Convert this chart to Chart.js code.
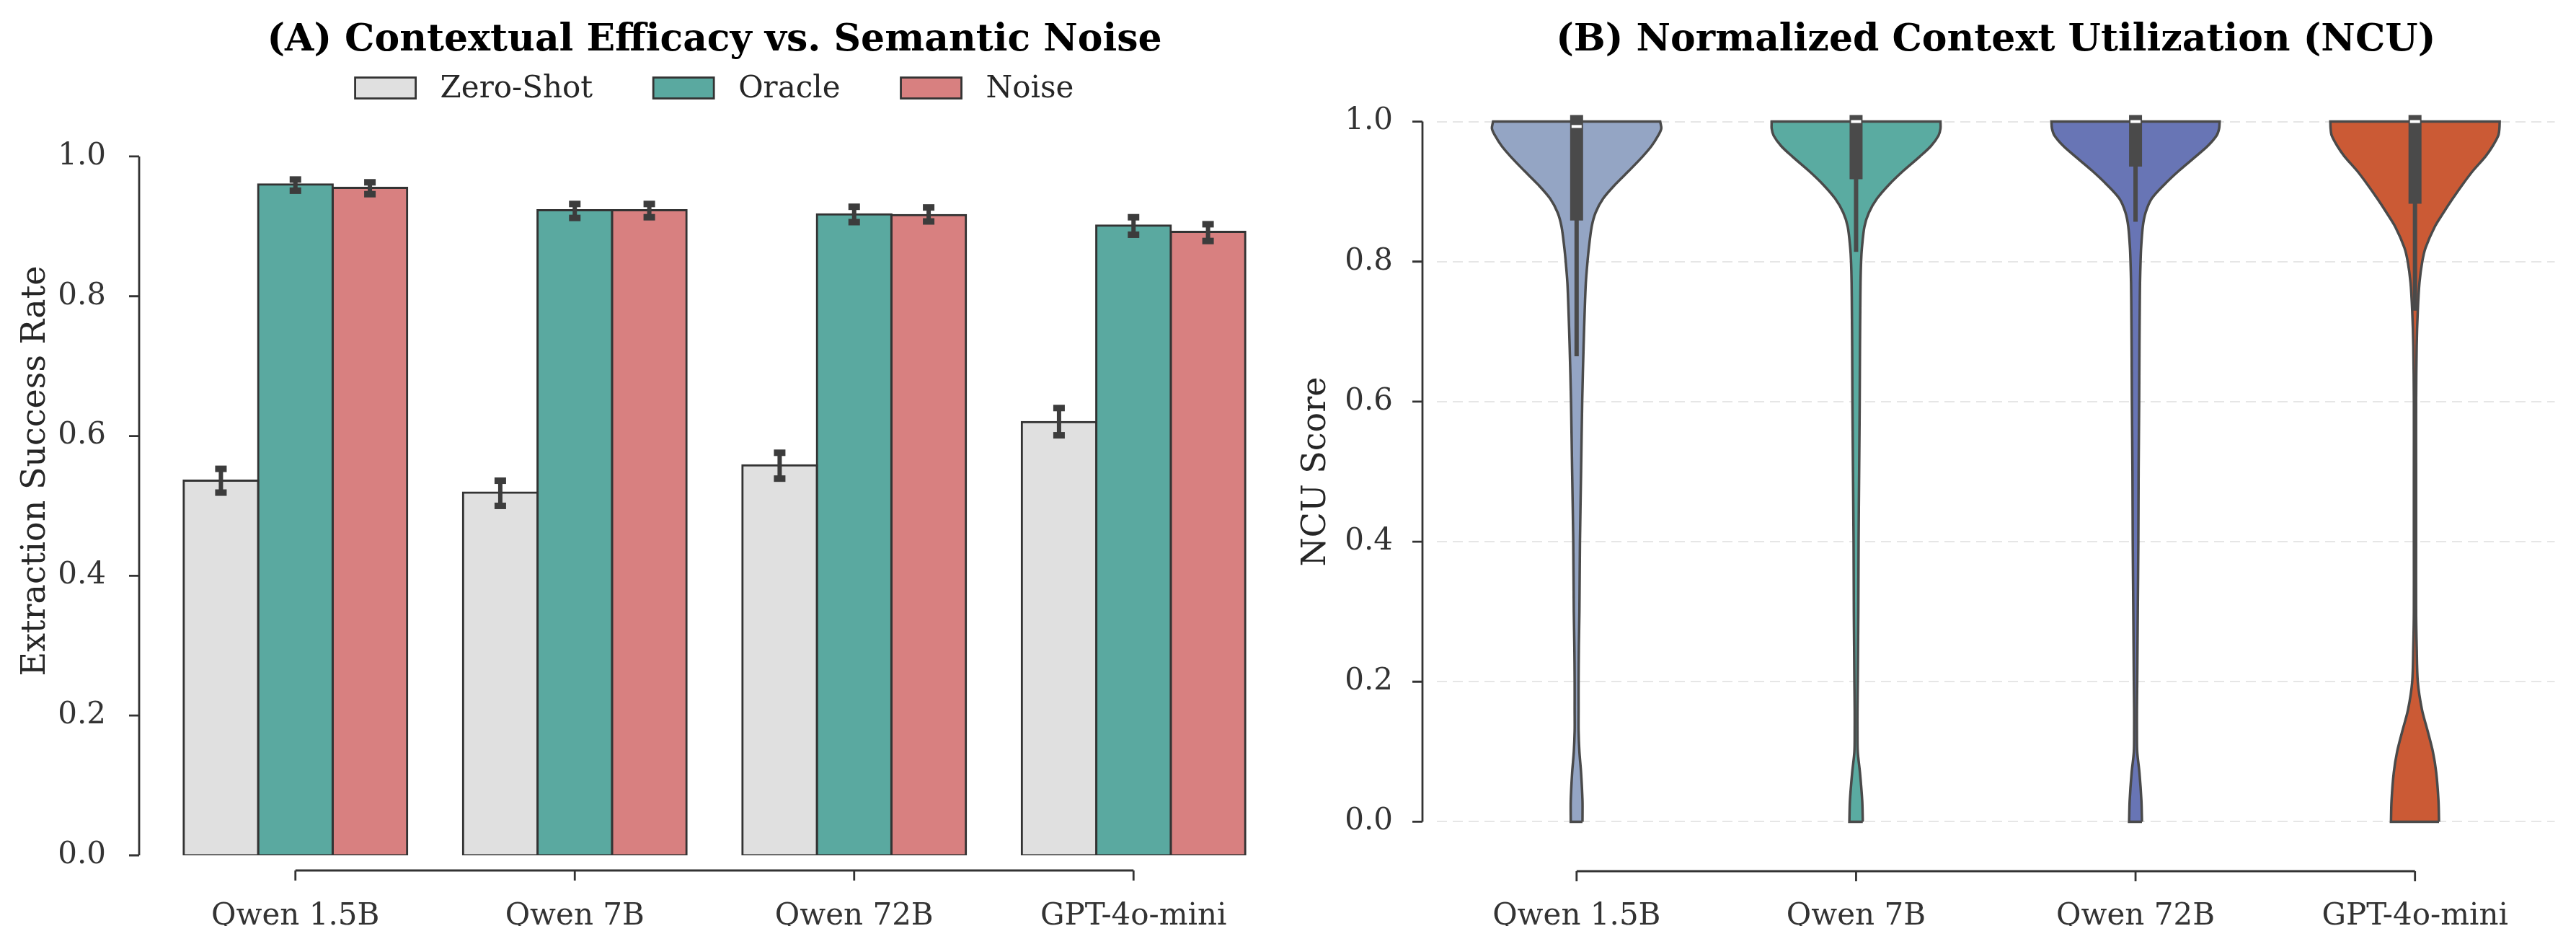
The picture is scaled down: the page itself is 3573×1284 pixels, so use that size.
<!DOCTYPE html>
<html>
<head>
<meta charset="utf-8">
<script src="https://cdn.jsdelivr.net/npm/chart.js@4.4.1/dist/chart.umd.min.js"></script>
<style>
    html, body { margin: 0; padding: 0; background: #fff; }
    #wrap { position: relative; width: 3573px; height: 1284px; }
    canvas { position: absolute; top: 0; }
    #efficacy { left: 0; }
    #ncu { left: 1786px; }
</style>
</head>
<body>
<div id="wrap">
    <canvas id="efficacy" width="1786" height="1284"></canvas>
    <canvas id="ncu" width="1787" height="1284"></canvas>
</div>
<script>
const models = ['Qwen 1.5B', 'Qwen 7B', 'Qwen 72B', 'GPT-4o-mini'];
const yTicks = [0, 0.2, 0.4, 0.6, 0.8, 1.0];

// (A) extraction success rate, with CI ends
const conditions = ['Zero-Shot', 'Oracle', 'Noise'];
const zeroShot = [0.536, 0.519, 0.558, 0.620];
const oracle = [0.960, 0.923, 0.917, 0.901];
const noise = [0.955, 0.923, 0.916, 0.892];
const zeroShotLo = [0.519, 0.500, 0.539, 0.601];
const zeroShotHi = [0.553, 0.536, 0.576, 0.640];
const oracleLo = [0.951, 0.912, 0.906, 0.888];
const oracleHi = [0.967, 0.932, 0.928, 0.913];
const noiseLo = [0.946, 0.913, 0.907, 0.879];
const noiseHi = [0.963, 0.932, 0.927, 0.903];

// (B) NCU violins: half-width (in category units) at each score level
const ncuLevels = [0, 0.03, 0.07, 0.10, 0.13, 0.16, 0.20, 0.25, 0.30, 0.40, 0.50, 0.60, 0.68, 0.73, 0.77, 0.80, 0.82, 0.85, 0.87, 0.89, 0.91, 0.93, 0.95, 0.965, 0.98, 0.99, 1.00];
const widthQwen15 = [0.021, 0.021, 0.016, 0.010, 0.007, 0.007, 0.007, 0.008, 0.010, 0.012, 0.016, 0.020, 0.025, 0.029, 0.033, 0.039, 0.044, 0.054, 0.068, 0.095, 0.138, 0.188, 0.236, 0.268, 0.292, 0.303, 0.299];
const widthQwen7 = [0.024, 0.022, 0.014, 0.006, 0.005, 0.005, 0.006, 0.007, 0.008, 0.009, 0.011, 0.013, 0.014, 0.015, 0.016, 0.018, 0.021, 0.030, 0.046, 0.075, 0.118, 0.170, 0.228, 0.268, 0.295, 0.302, 0.302];
const widthQwen72 = [0.023, 0.021, 0.014, 0.006, 0.005, 0.005, 0.006, 0.007, 0.008, 0.010, 0.011, 0.013, 0.014, 0.015, 0.016, 0.018, 0.020, 0.026, 0.036, 0.058, 0.103, 0.156, 0.215, 0.258, 0.290, 0.299, 0.301];
const widthGpt = [0.086, 0.084, 0.076, 0.064, 0.045, 0.025, 0.010, 0.006, 0.004, 0.004, 0.004, 0.004, 0.006, 0.010, 0.016, 0.026, 0.038, 0.071, 0.102, 0.135, 0.170, 0.208, 0.252, 0.278, 0.298, 0.302, 0.303];
const ncuQ1 = [0.868, 0.927, 0.945, 0.892];
const ncuQ3 = [1.0, 1.0, 1.0, 1.0];
const ncuMedian = [0.993, 1.0, 1.0, 1.0];
const ncuWhiskerLo = [0.668, 0.817, 0.860, 0.733];

const barColors = ['#e0e0e0', '#5aa9a0', '#d88080'];
const violinColors = ['#94a5c4', '#5aaba1', '#6875b5', '#cb5a35'];
const SERIF = "'DejaVu Serif', serif";

Chart.defaults.font.family = SERIF;
Chart.defaults.color = '#333';

// Offset, trimmed spines (seaborn despine style) + rotated y label
const axesDeco = {
    id: 'axesDeco',
    afterDraw(chart, args, opts) {
        const {ctx, chartArea, scales: {x, y}} = chart;
        ctx.save();
        ctx.strokeStyle = '#333';
        ctx.lineWidth = 2.8;
        const sx = chartArea.left - opts.offsetY;
        ctx.beginPath();
        ctx.moveTo(sx, y.getPixelForValue(yTicks[0]));
        ctx.lineTo(sx, y.getPixelForValue(yTicks[yTicks.length - 1]));
        yTicks.forEach(v => {
            const py = y.getPixelForValue(v);
            ctx.moveTo(sx, py);
            ctx.lineTo(sx - 14, py);
        });
        const sy = chartArea.bottom + opts.offsetX;
        ctx.moveTo(x.getPixelForValue(0), sy);
        ctx.lineTo(x.getPixelForValue(models.length - 1), sy);
        models.forEach((m, i) => {
            const px = x.getPixelForValue(i);
            ctx.moveTo(px, sy);
            ctx.lineTo(px, sy + 14);
        });
        ctx.stroke();

        ctx.fillStyle = '#262626';
        ctx.font = '46px ' + SERIF;
        ctx.textAlign = 'center';
        ctx.textBaseline = 'middle';
        ctx.translate(opts.labelX, (chartArea.top + chartArea.bottom) / 2);
        ctx.rotate(-Math.PI / 2);
        ctx.fillText(opts.label, 0, 0);
        ctx.restore();
    }
};

const errorBars = {
    id: 'errorBars',
    afterDatasetsDraw(chart) {
        const {ctx, scales: {y}} = chart;
        const lows = [zeroShotLo, oracleLo, noiseLo];
        const highs = [zeroShotHi, oracleHi, noiseHi];
        ctx.save();
        ctx.strokeStyle = '#3c3c3c';
        ctx.fillStyle = '#3c3c3c';
        ctx.lineWidth = 6;
        lows.forEach((los, k) => {
            const meta = chart.getDatasetMeta(k);
            los.forEach((lo, i) => {
                const bx = meta.data[i].x;
                const pLo = y.getPixelForValue(lo);
                const pHi = y.getPixelForValue(highs[k][i]);
                ctx.beginPath();
                ctx.moveTo(bx, pLo);
                ctx.lineTo(bx, pHi);
                ctx.stroke();
                ctx.fillRect(bx - 8, pLo - 4.5, 16, 9);
                ctx.fillRect(bx - 8, pHi - 4.5, 16, 9);
            });
        });
        ctx.restore();
    }
};

const barLegend = {
    id: 'barLegend',
    afterDraw(chart) {
        const {ctx, chartArea} = chart;
        const box = 84, boxH = 29, textGap = 34, colGap = 84, yc = 122;
        ctx.save();
        ctx.font = '42px ' + SERIF;
        const widths = conditions.map(t => ctx.measureText(t).width);
        const total = widths.reduce((a, w) => a + box + textGap + w, 0) + colGap * (conditions.length - 1);
        let lx = (chartArea.left + chartArea.right) / 2 - total / 2;
        conditions.forEach((name, k) => {
            ctx.fillStyle = barColors[k];
            ctx.fillRect(lx, yc - boxH / 2, box, boxH);
            ctx.strokeStyle = '#333';
            ctx.lineWidth = 2.8;
            ctx.strokeRect(lx, yc - boxH / 2, box, boxH);
            ctx.fillStyle = '#262626';
            ctx.textAlign = 'left';
            ctx.textBaseline = 'middle';
            ctx.fillText(name, lx + box + textGap, yc + 2);
            lx += box + textGap + widths[k] + colGap;
        });
        ctx.restore();
    }
};

const violinBoxes = {
    id: 'violinBoxes',
    afterDatasetsDraw(chart) {
        const {ctx, scales: {x, y}} = chart;
        ctx.save();
        ctx.strokeStyle = '#4a4a4a';
        ctx.lineCap = 'square';
        models.forEach((m, i) => {
            const cx = x.getPixelForValue(i);
            ctx.lineWidth = 6;
            ctx.beginPath();
            ctx.moveTo(cx, y.getPixelForValue(ncuWhiskerLo[i]));
            ctx.lineTo(cx, y.getPixelForValue(ncuQ1[i]));
            ctx.stroke();
            ctx.lineWidth = 18;
            ctx.beginPath();
            ctx.moveTo(cx, y.getPixelForValue(ncuQ1[i]));
            ctx.lineTo(cx, y.getPixelForValue(ncuQ3[i]));
            ctx.stroke();
            ctx.fillStyle = '#fff';
            ctx.fillRect(cx - 7, y.getPixelForValue(ncuMedian[i]) - 2, 14, 4);
        });
        ctx.restore();
    }
};

function yAxis(min, max, width) {
    return {
        min: min,
        max: max,
        afterBuildTicks: s => { s.ticks = yTicks.map(v => ({value: v})); },
        afterFit: s => { s.width = width; },
        ticks: {padding: 61, font: {size: 42}, color: '#333', callback: v => v.toFixed(1)}
    };
}

const titleFont = {size: 52, weight: 'bold', lineHeight: 1.2};

// (A) grouped bars
const barValues = [zeroShot, oracle, noise];
new Chart(document.getElementById('efficacy'), {
    type: 'bar',
    data: {
        labels: models,
        datasets: conditions.map((name, k) => ({
            label: name,
            data: barValues[k],
            backgroundColor: barColors[k],
            borderColor: '#333',
            borderWidth: 3,
            borderSkipped: false,
            inflateAmount: 1.5,
            categoryPercentage: 0.8,
            barPercentage: 1.0
        }))
    },
    options: {
        responsive: false,
        animation: false,
        devicePixelRatio: 1,
        layout: {padding: {left: 0, right: 20, top: 0, bottom: 0}},
        scales: {
            x: {
                grid: {display: false},
                border: {display: false},
                afterFit: s => { s.height = 98; },
                ticks: {padding: 52, maxRotation: 0, font: {size: 42}, color: '#333'}
            },
            y: Object.assign(yAxis(0, 1.1, 216), {grid: {display: false}, border: {display: false}})
        },
        plugins: {
            legend: {display: false},
            tooltip: {enabled: false},
            title: {
                display: true,
                fullSize: false,
                text: '(A) Contextual Efficacy vs. Semantic Noise',
                color: '#000',
                font: titleFont,
                padding: {top: 25, bottom: 32.6}
            },
            axesDeco: {offsetX: 21, offsetY: 23, label: 'Extraction Success Rate', labelX: 50}
        }
    },
    plugins: [axesDeco, errorBars, barLegend]
});

// (B) violins built as closed outlines around each category;
// corner points are doubled so the flat top and bottom stay sharp
const violinWidths = [widthQwen15, widthQwen7, widthQwen72, widthGpt];
function violinOutline(i, hw) {
    const n = ncuLevels.length;
    const pts = [{x: i + hw[0], y: ncuLevels[0]}];
    ncuLevels.forEach((lv, k) => pts.push({x: i + hw[k], y: lv}));
    pts.push({x: i + hw[n - 1], y: ncuLevels[n - 1]});
    pts.push({x: i - hw[n - 1], y: ncuLevels[n - 1]});
    for (let k = n - 1; k >= 0; k--) pts.push({x: i - hw[k], y: ncuLevels[k]});
    pts.push({x: i - hw[0], y: ncuLevels[0]});
    pts.push({x: i + hw[0], y: ncuLevels[0]});
    return pts;
}

new Chart(document.getElementById('ncu'), {
    type: 'line',
    data: {
        datasets: models.map((m, i) => ({
            label: m,
            data: violinOutline(i, violinWidths[i]),
            backgroundColor: violinColors[i],
            borderColor: '#4a4a4a',
            borderWidth: 3.5,
            fill: 'shape',
            pointRadius: 0,
            tension: 0.3
        }))
    },
    options: {
        responsive: false,
        animation: false,
        devicePixelRatio: 1,
        layout: {padding: {left: 0, right: 29.5, top: 0, bottom: 0}},
        scales: {
            x: {
                type: 'linear',
                min: -0.5,
                max: 3.5,
                grid: {display: false},
                border: {display: false},
                afterBuildTicks: s => { s.ticks = models.map((m, i) => ({value: i})); },
                afterFit: s => { s.height = 96; },
                ticks: {padding: 50, maxRotation: 0, font: {size: 42}, color: '#333', callback: v => models[v]}
            },
            y: Object.assign(yAxis(-0.05, 1.05, 207), {
                grid: {color: '#e6e6e6', lineWidth: 2, drawTicks: false},
                border: {display: false, dash: [14, 8]}
            })
        },
        plugins: {
            legend: {display: false},
            tooltip: {enabled: false},
            title: {
                display: true,
                fullSize: false,
                text: '(B) Normalized Context Utilization (NCU)',
                color: '#000',
                font: titleFont,
                padding: {top: 25, bottom: 32.6}
            },
            axesDeco: {offsetX: 20, offsetY: 20, label: 'NCU Score', labelX: 40}
        }
    },
    plugins: [axesDeco, violinBoxes]
});
</script>
</body>
</html>
